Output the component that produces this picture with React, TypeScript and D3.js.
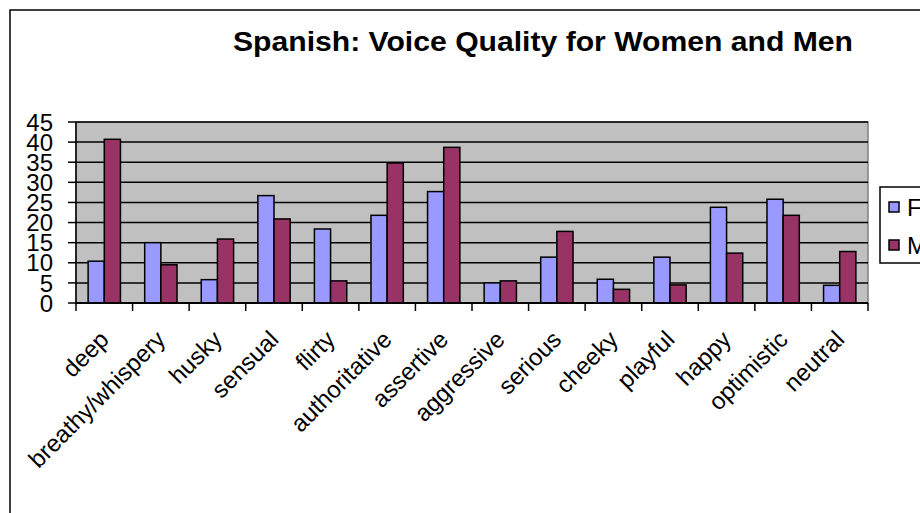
import * as d3 from "d3";

const categories = [
  "deep", "breathy/whispery", "husky", "sensual", "flirty", "authoritative", "assertive",
  "aggressive", "serious", "cheeky", "playful", "happy", "optimistic", "neutral",
];
const femaleValues = [10.4, 15, 5.8, 26.7, 18.4, 21.8, 27.7, 5, 11.4, 5.9, 11.4, 23.8, 25.8, 4.4];
const maleValues = [40.7, 9.5, 15.9, 20.9, 5.5, 34.8, 38.7, 5.5, 17.8, 3.4, 4.5, 12.4, 21.8, 12.8];
const yTicks = [0, 5, 10, 15, 20, 25, 30, 35, 40, 45];
const seriesNames = ["F", "M"];
const colours = ["#9999FF", "#993366"];

const FONT = "'Liberation Sans', Arial, sans-serif";

export default function App() {
  const left = 76, right = 868, top = 122, bottom = 303;

  const x = d3.scaleBand().domain(categories).range([left, right]);
  const y = d3.scaleLinear().domain([0, 45]).range([bottom, top]);
  const barW = x.bandwidth() / 3.5;
  const series = [femaleValues, maleValues];

  return (
    <svg width={920} height={513} style={{ position: "fixed", left: 0, top: 0, background: "#fff" }}>
      <rect x={10} y={10} width={1000} height={600} fill="#fff" stroke="#000" strokeWidth={1.5} />
      <text x={543} y={51} textAnchor="middle" fontFamily={FONT} fontWeight="bold" fontSize={28}
        textLength={620} lengthAdjust="spacingAndGlyphs">
        Spanish: Voice Quality for Women and Men
      </text>

      {/* plot area */}
      <rect x={left} y={top} width={right - left} height={bottom - top} fill="#C0C0C0" stroke="#808080" strokeWidth={1.5} />
      {yTicks.filter(t => t > 0).map(t => (
        <line key={t} x1={left} x2={right} y1={y(t)} y2={y(t)} stroke="#000" strokeWidth={1.5} />
      ))}

      {/* bars */}
      {series.map((vals, si) =>
        vals.map((v, i) => (
          <rect key={`${si}-${i}`}
            x={x(categories[i])! + barW * 0.75 + si * barW}
            y={y(v)} width={barW} height={y(0) - y(v)}
            fill={colours[si]} stroke="#000" strokeWidth={1.5} />
        ))
      )}

      {/* y axis */}
      <line x1={left} x2={left} y1={top} y2={bottom} stroke="#000" strokeWidth={1.5} />
      {yTicks.map(t => (
        <g key={t}>
          <line x1={left - 8} x2={left} y1={y(t)} y2={y(t)} stroke="#000" strokeWidth={1.5} />
          <text x={53} y={y(t)} dy="0.36em" textAnchor="end" fontFamily={FONT} fontSize={24}>{t}</text>
        </g>
      ))}

      {/* x axis */}
      <line x1={left} x2={right} y1={bottom} y2={bottom} stroke="#000" strokeWidth={2} />
      {d3.range(categories.length + 1).map(i => (
        <line key={i} x1={left + i * x.step()} x2={left + i * x.step()} y1={bottom} y2={bottom + 8}
          stroke="#000" strokeWidth={1.5} />
      ))}
      {categories.map(c => {
        const cx = x(c)! + x.bandwidth() / 2 + 6;
        const cy = bottom + 38;
        return (
          <text key={c} transform={`translate(${cx},${cy}) rotate(-45)`} textAnchor="end"
            fontFamily={FONT} fontSize={24}>{c}</text>
        );
      })}

      {/* legend */}
      <rect x={880} y={187} width={80} height={76} fill="#fff" stroke="#000" strokeWidth={1.5} />
      {seriesNames.map((s, i) => (
        <g key={s}>
          <rect x={889} y={202 + i * 38} width={10} height={10} fill={colours[i]} stroke="#000" strokeWidth={1.5} />
          <text x={907} y={216 + i * 38} fontFamily={FONT} fontSize={24}>{s}</text>
        </g>
      ))}
    </svg>
  );
}
